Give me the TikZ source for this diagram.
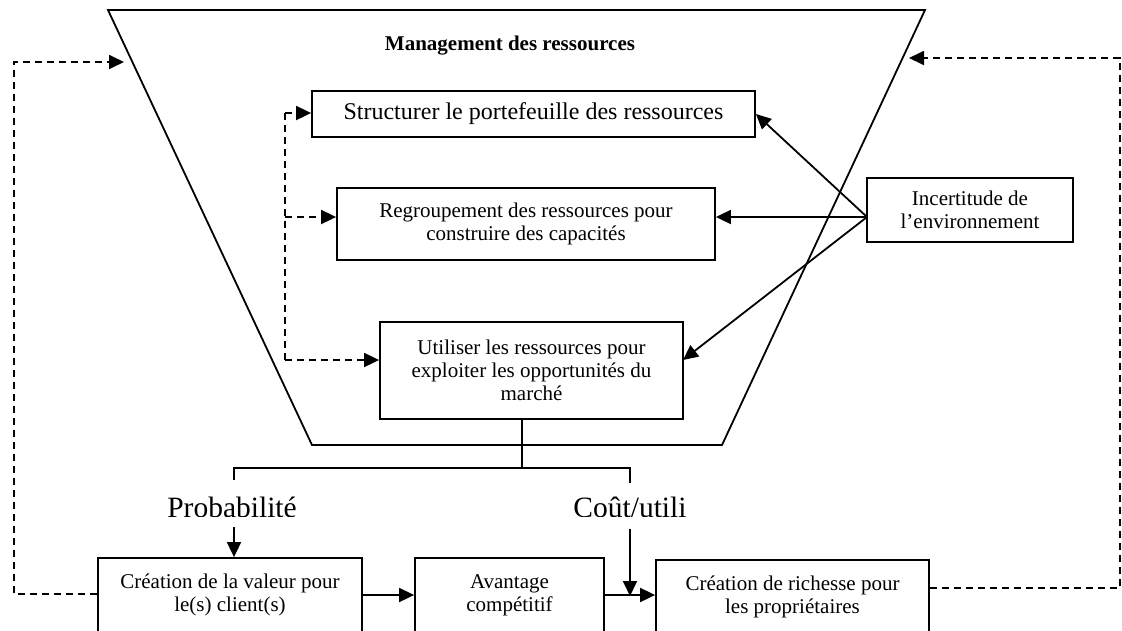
\documentclass[tikz,border=0pt]{standalone}
\usepackage{fontspec}
\setmainfont{Liberation Serif}
\usetikzlibrary{arrows.meta}
\begin{document}
\begin{tikzpicture}[x=1pt,y=-1pt,
  box/.style={draw, line width=1.8pt, align=center, inner sep=0pt,
    font=\fontsize{21}{23}\selectfont},
  link/.style={line width=1.8pt, -{Triangle[length=15pt,width=14pt]}},
  plain/.style={line width=1.8pt},
  dlink/.style={link, dash pattern=on 7pt off 5pt},
  dplain/.style={plain, dash pattern=on 7pt off 5pt},
  lbl/.style={inner sep=0pt, font=\fontsize{29.5}{32}\selectfont}
]
\clip (0,0) rectangle (1122,630);
\useasboundingbox (0,0) rectangle (1122,630);

% funnel of resource management
\draw[plain, line join=miter] (108,10) -- (925,10) -- (722,445) -- (312,445) -- cycle;
\node[inner sep=0pt, anchor=base, font=\fontsize{21}{23}\selectfont\bfseries] (title) at (510,50) {Management des ressources};

% steps inside the funnel
\node[box, minimum width=443pt, minimum height=46pt, font=\fontsize{24}{26}\selectfont] (struct) at (533.5,114) {Structurer le portefeuille des ressources};
\node[box, minimum width=378pt, minimum height=72pt] (regroup) at (526,224) {Regroupement des ressources pour\\construire des capacités};
\node[box, minimum width=303pt, minimum height=97pt] (utiliser) at (531.5,370.5) {Utiliser les ressources pour\\exploiter les opportunités du\\marché};

% environment
\node[box, minimum width=206pt, minimum height=64pt] (incert) at (970,210) {Incertitude de\\l’environnement};

% outcomes
\node[box, minimum width=264pt, minimum height=74pt] (valeur) at (230,595) {Création de la valeur pour\\le(s) client(s)};
\node[box, minimum width=189pt, minimum height=74pt] (avantage) at (509.5,595) {Avantage\\compétitif};
\node[box, minimum width=273pt, minimum height=74pt] (richesse) at (792.5,597) {Création de richesse pour\\les propriétaires};

% labels of the two branches
\begin{scope}
  \clip (0,0) rectangle (1122,516);
  \node[lbl, anchor=base] (prob) at (232,517) {Probabilité};
  \node[lbl, anchor=base] (cout) at (630,517) {Coût/utili};
\end{scope}

% helper points
\coordinate (src) at (867,217);
\coordinate (ltip) at (124,62);
\coordinate (lcorner) at (14,62);
\coordinate (rtip) at (909,58);
\coordinate (rcorner) at (1120,58);
\coordinate (bx) at (285,113);
\coordinate (trunk) at (522,468);
\coordinate (pl) at (234,468);
\coordinate (pr) at (630,468);
\coordinate (probtop) at (234,480);
\coordinate (couttop) at (630,483);
\coordinate (probbot) at (234,527);
\coordinate (coutbot) at (630,529);
\coordinate (merge) at (630,596);

% environment influences
\draw[link] (src) -- (struct.east);
\draw[link] (src) -- (src -| regroup.east);
\draw[link] (src) -- (683,360);

% internal feedback bracket
\draw[dplain] (bx) -- (285,360);
\draw[dlink] (bx) -- (struct.west |- bx);
\draw[dlink] (285,217) -- (regroup.west |- 285,217);
\draw[dlink] (285,360) -- (utiliser.west |- 285,360);

% branching tree from the last step
\draw[plain] (utiliser.south -| trunk) -- (trunk);
\draw[plain] (probtop) -- (pl) -- (pr) -- (couttop);
\draw[link] (probbot) -- (probbot |- valeur.north);
\draw[link] (coutbot) -- (merge);

% value chain
\draw[link] (valeur.east) -- (avantage.west);
\draw[link] (avantage.east) -- (avantage.east -| richesse.west);

% outer feedback loops
\draw[dlink] ([yshift=1pt]valeur.west) -| (lcorner) -- (ltip);
\draw[dlink] ([yshift=9pt]richesse.east) -| (rcorner) -- (rtip);
\end{tikzpicture}
\end{document}
